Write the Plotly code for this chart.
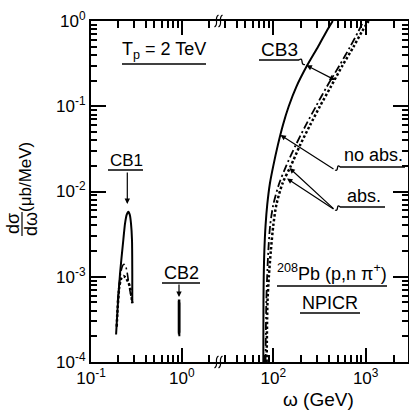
import numpy as np
import plotly.graph_objects as go

# ---------------- data ----------------
# CB1 peak (left panel)
cb1_noabs_x = [0.189, 0.197, 0.209, 0.227, 0.237, 0.248, 0.258, 0.268, 0.276, 0.283, 0.285, 0.285]
cb1_noabs_y = [2.1e-4, 4.5e-4, 1.1e-3, 2.7e-3, 4.2e-3, 5.4e-3, 5.8e-3, 5.3e-3, 4.2e-3, 2.7e-3, 1.1e-3, 4.9e-4]
cb1_absa_x = [0.196, 0.200, 0.212, 0.222, 0.231, 0.241, 0.251, 0.264, 0.275, 0.285]
cb1_absa_y = [5.0e-4, 6.4e-4, 1.1e-3, 1.33e-3, 1.4e-3, 1.33e-3, 1.1e-3, 7.6e-4, 6.0e-4, 4.9e-4]
cb1_absb_x = [0.192, 0.195, 0.205, 0.215, 0.228, 0.240, 0.255, 0.269, 0.280, 0.285]
cb1_absb_y = [2.6e-4, 3.7e-4, 7.6e-4, 9.5e-4, 1.02e-3, 9.8e-4, 8.8e-4, 7.6e-4, 5.8e-4, 4.9e-4]

# CB2 (narrow bar)
cb2_noabs_x = [0.935, 0.935]
cb2_noabs_y = [2.2e-4, 5.4e-4]
cb2_absa_x = [0.929, 0.929]
cb2_absa_y = [2.1e-4, 5.2e-4]
cb2_absb_x = [0.941, 0.941]
cb2_absb_y = [2.0e-4, 5.0e-4]

# CB3 (right panel)
cb3_y = [1e-4, 5e-4, 1e-3, 2e-3, 4e-3, 7e-3, 0.0125, 0.02, 0.035, 0.06, 0.1, 0.17, 0.3, 0.5, 0.75, 1.0]
cb3_noabs_x = [78, 78.3, 78.8, 80, 82.5, 86, 92, 100, 112, 127, 147, 178, 232, 305, 375, 440]
cb3_absa_x = [82.4, 84, 85.8, 88.3, 92.5, 100, 116, 138, 175, 225, 290, 380, 520, 680, 830, 950]
cb3_absb_x = [84.8, 86.5, 89.5, 94, 100, 108, 126, 155, 195, 250, 320, 420, 560, 740, 910, 1075]

y_tickvals = [1e-4, 1e-3, 1e-2, 1e-1, 1]
y_ticktext = ["10<sup>-4</sup>", "10<sup>-3</sup>", "10<sup>-2</sup>", "10<sup>-1</sup>", "10<sup>0</sup>"]
x1_tickvals = [0.1, 1]
x1_ticktext = ["10<sup>-1</sup>", "10<sup>0</sup>"]
x2_tickvals = [100, 1000]
x2_ticktext = ["10<sup>2</sup>", "10<sup>3</sup>"]

# ---------------- layout geometry ----------------
W, H = 409, 412
PL, PR, PT, PB = 91, 408, 21, 362
BREAK = 218.5
D = (BREAK - PL) / (PR - PL)


def P(px):
    return (px - PL) / (PR - PL)


def Q(py):
    return (PB - py) / (PB - PT)


FONT = "Liberation Sans, Arial, sans-serif"

fig = go.Figure()


def add(x, y, dash, width, xa, ya, smoothing=0.6):
    fig.add_trace(go.Scatter(
        x=x, y=y, mode="lines", xaxis=xa, yaxis=ya, showlegend=False,
        hoverinfo="skip",
        line=dict(color="black", width=width, dash=dash, shape="spline", smoothing=smoothing)))


DOT = "2.5px,2.2px"
DASHDOT = "8px,3px,2px,3px"
add(cb1_noabs_x, cb1_noabs_y, "solid", 2, "x", "y")
add(cb1_absa_x, cb1_absa_y, DASHDOT, 1.6, "x", "y")
add(cb1_absb_x, cb1_absb_y, DOT, 2.5, "x", "y")
add(cb2_absa_x, cb2_absa_y, "solid", 2, "x", "y")
add(cb2_absb_x, cb2_absb_y, "solid", 2, "x", "y")
add(cb2_noabs_x, cb2_noabs_y, "solid", 2.5, "x", "y")
add(cb3_noabs_x, cb3_y, "solid", 2, "x2", "y2", 0.8)
add(cb3_absa_x, cb3_y, DASHDOT, 1.8, "x2", "y2", 0.8)
add(cb3_absb_x, cb3_y, DOT, 2.5, "x2", "y2", 0.8)


def minors(lo, hi):
    return [m * 10 ** e for e in range(lo, hi) for m in range(2, 10)]


tickfont = dict(family=FONT, size=17, color="black")
common = dict(type="log", showgrid=False, zeroline=False, showline=True,
              linecolor="black", linewidth=2, ticks="inside", ticklen=14,
              tickwidth=1.5, tickcolor="black", tickfont=tickfont,
              tickmode="array")

minor_x1 = [v for v in minors(-1, 1) if v < 2.6]
minor_x2 = [v for v in minors(1, 4) if 25 < v < 2900]
minor_y = minors(-4, 0)

fig.update_layout(
    width=W, height=H,
    margin=dict(l=PL, r=W - PR, t=PT, b=H - PB),
    paper_bgcolor="white", plot_bgcolor="white",
    font=dict(family=FONT, color="black"),
    xaxis=dict(common, domain=[0, D], range=[-1, 0.405], anchor="y",
               mirror="ticks", tickvals=x1_tickvals, ticktext=x1_ticktext,
               minor=dict(tickmode="array", tickvals=minor_x1, ticks="inside",
                          ticklen=7, tickwidth=1.5, tickcolor="black")),
    xaxis2=dict(common, domain=[D, 1], range=[1.407, 3.458], anchor="y2",
                mirror="ticks", tickvals=x2_tickvals, ticktext=x2_ticktext,
                minor=dict(tickmode="array", tickvals=minor_x2, ticks="inside",
                           ticklen=7, tickwidth=1.5, tickcolor="black")),
    yaxis=dict(common, domain=[0, 1], range=[-4, 0], anchor="x",
               tickvals=y_tickvals, ticktext=y_ticktext, ticklen=15,
               minor=dict(tickmode="array", tickvals=minor_y, ticks="inside",
                          ticklen=6, tickwidth=1.5, tickcolor="black")),
    yaxis2=dict(common, domain=[0, 1], range=[-4, 0], anchor="x2", side="right",
                tickvals=y_tickvals, showticklabels=False, ticklen=15,
                minor=dict(tickmode="array", tickvals=minor_y, ticks="inside",
                           ticklen=6, tickwidth=1.5, tickcolor="black")),
)

annotations = []
shapes = []


def text(t, px, py, size=18, angle=0):
    annotations.append(dict(text=t, x=P(px), y=Q(py), xref="paper", yref="paper",
                            showarrow=False, xanchor="center", yanchor="middle",
                            textangle=angle,
                            font=dict(family=FONT, size=size, color="black")))


def line(x0, y0, x1, y1, w=1.3):
    shapes.append(dict(type="line", xref="paper", yref="paper",
                       x0=P(x0), y0=Q(y0), x1=P(x1), y1=Q(y1),
                       line=dict(color="black", width=w)))


def arrow(tipx, tipy, tailx, taily, side="end"):
    annotations.append(dict(text="", x=P(tipx), y=Q(tipy), xref="paper", yref="paper",
                            ax=tailx - tipx, ay=taily - tipy, showarrow=True,
                            arrowhead=2, arrowsize=0.9, arrowwidth=1.2,
                            arrowcolor="black", arrowside=side, standoff=0,
                            startstandoff=0))


def curve(pts, w=1.3):
    (x0, y0), (x1, y1), (x2, y2), (x3, y3) = pts
    path = "M {:.5f},{:.5f} C {:.5f},{:.5f} {:.5f},{:.5f} {:.5f},{:.5f}".format(
        P(x0), Q(y0), P(x1), Q(y1), P(x2), Q(y2), P(x3), Q(y3))
    shapes.append(dict(type="path", xref="paper", yref="paper", path=path,
                       line=dict(color="black", width=w)))


# labels
text("T<sub>p</sub> = 2 TeV", 164, 50, 18)
line(122, 64, 206, 64)

text("CB3", 279, 49, 19)
line(259, 60, 299, 60)
curve([(299, 60), (304, 56), (300, 66), (305, 64.5)])
arrow(335, 80, 305, 64.5, side="end+start")

text("CB1", 126, 160, 17)
line(108, 170, 143, 170)
arrow(127.3, 204, 127.3, 171)

text("CB2", 181, 273, 18)
line(162, 283, 200, 283)
arrow(179, 297, 179, 283)

text("no abs.", 373, 155, 18)
line(340, 167, 405, 167)
curve([(340, 167), (336, 163), (339, 172), (335, 170)])
arrow(280.5, 135, 335, 170)

text("abs.", 364, 196, 18)
line(340, 207, 385, 207)
curve([(340, 207), (336, 203), (339, 212), (335, 210)])
arrow(289.5, 168, 335, 210)
arrow(287, 178.5, 335, 210)

text("<sup>208</sup>Pb (p,n \u03c0<sup>+</sup>)", 332, 272, 18)
line(277, 286, 387, 286)
text("NPICR", 330, 303, 18)
line(300, 313, 360, 313)

# axis titles
text("\u03c9 (GeV)", 318, 400, 19)
text("(\u03bcb/MeV)", 25, 177, 17, angle=-90)
text("d\u03c3", 13, 224, 18, angle=-90)
text("d\u03c9", 31, 224, 18, angle=-90)
line(22, 212, 22, 236, 1.2)

# axis-break marks
for cy in (PT, PB):
    for cx in (216.5, 220.5):
        curve([(cx - 2, cy + 6), (cx + 3, cy + 3), (cx - 3, cy - 3), (cx + 2, cy - 6)], 1.2)

fig.update_layout(annotations=annotations, shapes=shapes)
fig.write_html("out.html")
